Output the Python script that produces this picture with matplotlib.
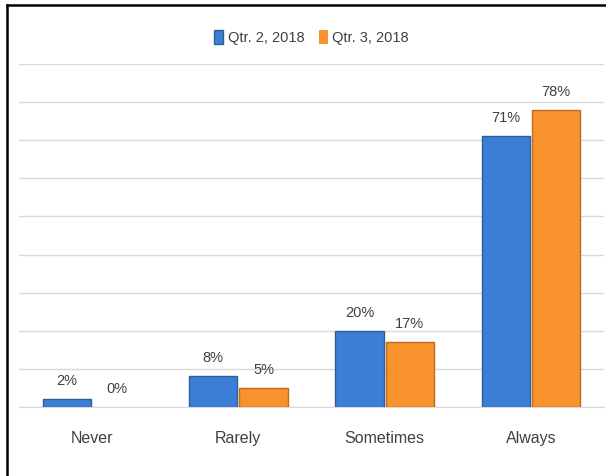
import numpy as np
import matplotlib as mpl
mpl.use('Agg')
import matplotlib.pyplot as plt
from matplotlib.lines import Line2D

plt.rcParams['font.family'] = ['Liberation Sans Narrow', 'Liberation Sans', 'DejaVu Sans']

# Data
categories = ['Never', 'Rarely', 'Sometimes', 'Always']
qtr2 = [2, 8, 20, 71]
qtr3 = [0, 5, 17, 78]
series_names = ['Qtr. 2, 2018', 'Qtr. 3, 2018']

# Colors
clr_blue = '#3C7ED6'
clr_blue_edge = '#2E5E9A'
clr_orange = '#F8922C'
clr_orange_edge = '#C2691C'
clr_text = '#404040'

fig = plt.figure(figsize=(6.06, 4.76), dpi=100)
ax = fig.add_axes([0.031, 0.145, 0.966, 0.7205])

x = np.arange(len(categories))
w = 0.33
gap = 0.007
b1 = ax.bar(x - w/2 - gap, qtr2, width=w, color=clr_blue, edgecolor=clr_blue_edge,
            linewidth=1.0, label=series_names[0], zorder=3)
b2 = ax.bar(x + w/2 + gap, qtr3, width=w, color=clr_orange, edgecolor=clr_orange_edge,
            linewidth=1.0, label=series_names[1], zorder=3)

for bars, vals in ((b1, qtr2), (b2, qtr3)):
    for rect, v in zip(bars, vals):
        if v == 0:
            rect.set_linewidth(0)
        ax.annotate(f'{v}%', (rect.get_x() + rect.get_width()/2, v),
                    xytext=(0, 8), textcoords='offset points',
                    ha='center', va='bottom', fontsize=10.5, color=clr_text)

ax.set_xlim(-0.5, len(categories) - 0.5)
ax.set_ylim(0, 90)
ax.set_yticks(np.arange(0, 91, 10))
ax.yaxis.grid(True, color='#D9D9D9', linewidth=1.0, zorder=0)
ax.set_axisbelow(True)
ax.tick_params(axis='y', left=False, labelleft=False)
ax.tick_params(axis='x', bottom=False, pad=14, labelsize=11.5, labelcolor=clr_text)
ax.set_xticks(x)
ax.set_xticklabels(categories)
for s in ['top', 'right', 'left']:
    ax.spines[s].set_visible(False)
ax.spines['bottom'].set_color('#D9D9D9')

ax.legend(loc='center', bbox_to_anchor=(0.5, 1.076), ncol=2, frameon=False,
          fontsize=10.5, handlelength=0.6, handleheight=1.1, handletextpad=0.3,
          columnspacing=1.0, labelcolor=clr_text)

# outer frame (top and left edges)
fig.add_artist(Line2D([7/606, 7/606], [0, 1 - 5/476], color='black', linewidth=1.8,
                      transform=fig.transFigure))
fig.add_artist(Line2D([7/606, 1], [1 - 5/476, 1 - 5/476], color='black', linewidth=1.8,
                      transform=fig.transFigure))

fig.savefig('out.png', dpi=100)
